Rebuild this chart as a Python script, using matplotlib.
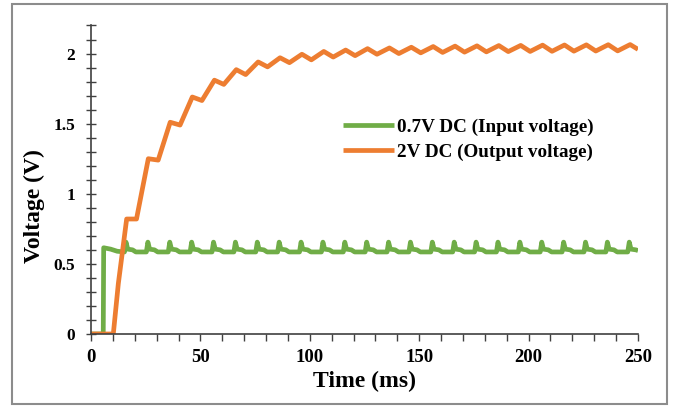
import matplotlib
matplotlib.use('Agg')
import matplotlib.pyplot as plt
from matplotlib.patches import Rectangle
from matplotlib.ticker import MultipleLocator

# input voltage (green)
t_in = [0, 5.6, 5.8, 9, 12, 15.3, 16, 16.8, 19, 20.5,
        25.3, 26, 26.8, 29, 30.5, 35.3, 36, 36.8, 39, 40.5,
        45.3, 46, 46.8, 49, 50.5, 55.3, 56, 56.8, 59, 60.5,
        65.3, 66, 66.8, 69, 70.5, 75.3, 76, 76.8, 79, 80.5,
        85.3, 86, 86.8, 89, 90.5, 95.3, 96, 96.8, 99, 100.5,
        105.3, 106, 106.8, 109, 110.5, 115.3, 116, 116.8, 119, 120.5,
        125.3, 126, 126.8, 129, 130.5, 135.3, 136, 136.8, 139, 140.5,
        145.3, 146, 146.8, 149, 150.5, 155.3, 156, 156.8, 159, 160.5,
        165.3, 166, 166.8, 169, 170.5, 175.3, 176, 176.8, 179, 180.5,
        185.3, 186, 186.8, 189, 190.5, 195.3, 196, 196.8, 199, 200.5,
        205.3, 206, 206.8, 209, 210.5, 215.3, 216, 216.8, 219, 220.5,
        225.3, 226, 226.8, 229, 230.5, 235.3, 236, 236.8, 239, 240.5,
        245.3, 246, 246.8, 249, 250]
v_in = [0, 0, 0.615, 0.605, 0.59, 0.585, 0.655, 0.605, 0.600, 0.585,
        0.585, 0.655, 0.605, 0.600, 0.585, 0.585, 0.655, 0.605, 0.600, 0.585,
        0.585, 0.655, 0.605, 0.600, 0.585, 0.585, 0.655, 0.605, 0.600, 0.585,
        0.585, 0.655, 0.605, 0.600, 0.585, 0.585, 0.655, 0.605, 0.600, 0.585,
        0.585, 0.655, 0.605, 0.600, 0.585, 0.585, 0.655, 0.605, 0.600, 0.585,
        0.585, 0.655, 0.605, 0.600, 0.585, 0.585, 0.655, 0.605, 0.600, 0.585,
        0.585, 0.655, 0.605, 0.600, 0.585, 0.585, 0.655, 0.605, 0.600, 0.585,
        0.585, 0.655, 0.605, 0.600, 0.585, 0.585, 0.655, 0.605, 0.600, 0.585,
        0.585, 0.655, 0.605, 0.600, 0.585, 0.585, 0.655, 0.605, 0.600, 0.585,
        0.585, 0.655, 0.605, 0.600, 0.585, 0.585, 0.655, 0.605, 0.600, 0.585,
        0.585, 0.655, 0.605, 0.600, 0.585, 0.585, 0.655, 0.605, 0.600, 0.585,
        0.585, 0.655, 0.605, 0.600, 0.585, 0.585, 0.655, 0.605, 0.600, 0.585,
        0.585, 0.655, 0.605, 0.600, 0.595]

# output voltage (orange)
t_out = [0, 10.2, 12.5, 16.3, 20.8, 23.3, 26.2, 30.7, 36.2, 40.7,
         46.3, 50.7, 56.4, 60.7, 66.4, 70.7, 76.4, 80.7, 86.4, 90.7,
         96.4, 100.7, 106.4, 110.7, 116.4, 120.7, 126.4, 130.7, 136.4, 140.7,
         146.4, 150.7, 156.4, 160.7, 166.4, 170.7, 176.4, 180.7, 186.4, 190.7,
         196.4, 200.7, 206.4, 210.7, 216.4, 220.7, 226.4, 230.7, 236.4, 240.7,
         246.4, 250]
v_out = [0, 0, 0.36, 0.82, 0.82, 1.02, 1.25, 1.24, 1.51, 1.49,
         1.69, 1.665, 1.81, 1.78, 1.885, 1.85, 1.94, 1.905, 1.97, 1.935,
         1.995, 1.955, 2.015, 1.975, 2.025, 1.985, 2.035, 1.995, 2.04, 2.0,
         2.045, 2.005, 2.05, 2.008, 2.053, 2.01, 2.055, 2.012, 2.057, 2.014,
         2.058, 2.015, 2.06, 2.016, 2.061, 2.017, 2.062, 2.018, 2.063, 2.019,
         2.064, 2.03]

labels = ['0.7V DC (Input voltage)', '2V DC (Output voltage)']
colors = ['#70AD47', '#ED7D31']

plt.rcParams['font.family'] = ['Liberation Serif', 'DejaVu Serif']
plt.rcParams['font.weight'] = 'bold'

fig = plt.figure(figsize=(6.75, 4.08), dpi=100)
ax = fig.add_axes([0.1348, 0.1814, 0.8104, 0.7561])

ax.plot(t_in, v_in, color=colors[0], lw=3.4, label=labels[0],
        solid_joinstyle='round', solid_capstyle='butt')
ax.plot(t_out, v_out, color=colors[1], lw=3.4, label=labels[1],
        solid_joinstyle='round', solid_capstyle='butt')

ax.set_xlim(0, 250)
ax.set_ylim(0, 2.2)
ax.xaxis.set_major_locator(MultipleLocator(50))
ax.xaxis.set_minor_locator(MultipleLocator(10))
ax.yaxis.set_major_locator(MultipleLocator(0.5))
ax.yaxis.set_minor_locator(MultipleLocator(0.1))
ax.yaxis.set_major_formatter(plt.FuncFormatter(lambda v, p: f'{v:g}'))

for s in ['top', 'right']:
    ax.spines[s].set_visible(False)
for s in ['left', 'bottom']:
    ax.spines[s].set_color('#404040')
    ax.spines[s].set_linewidth(1.2)

ax.tick_params(axis='x', which='both', direction='out', length=5, width=1,
               color='#404040', labelsize=13.5, pad=6)
ax.tick_params(axis='y', which='both', direction='inout', length=7, width=1,
               color='#404040', labelsize=12.5, pad=8)

ax.set_xlabel('Time (ms)', fontsize=17, fontweight='bold', labelpad=3)
ax.set_ylabel('Voltage (V)', fontsize=17, fontweight='bold')
ax.yaxis.set_label_coords(-0.084, 0.415)

ax.legend(loc='center left', bbox_to_anchor=(0.46, 0.63), frameon=False,
          fontsize=13.8, handlelength=2.7, handletextpad=0.15,
          borderpad=0, borderaxespad=0, labelspacing=0.4)

fig.patches.append(Rectangle((0.0178, 0.0098), 0.970, 0.980, transform=fig.transFigure,
                             fill=False, edgecolor='#8c8c8c', lw=1.5))

fig.savefig('out.png', dpi=100)
